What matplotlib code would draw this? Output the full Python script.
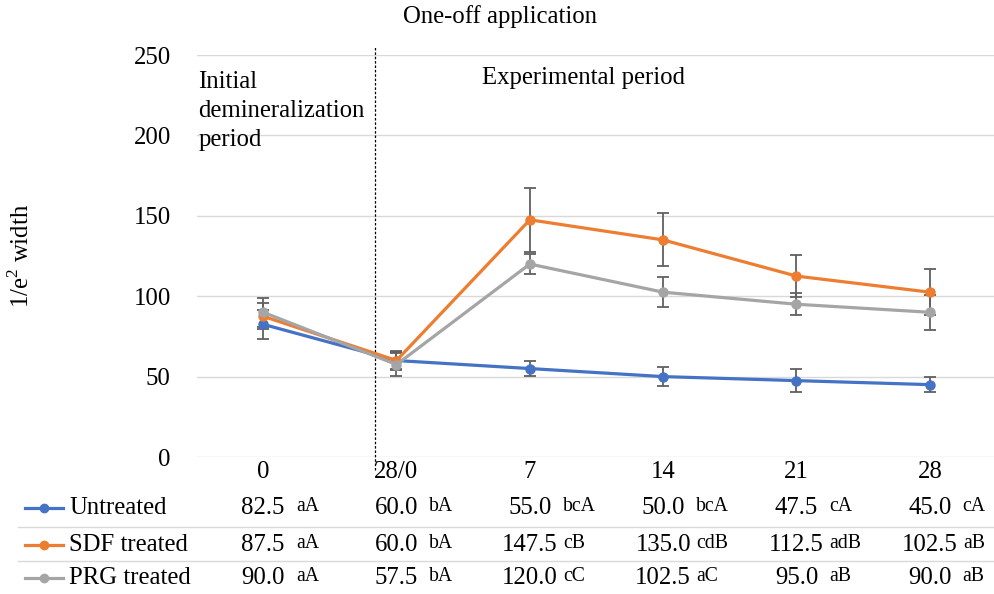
import matplotlib
matplotlib.use("Agg")
import matplotlib.pyplot as plt
from matplotlib.lines import Line2D
from matplotlib.transforms import blended_transform_factory

plt.rcParams["font.family"] = ["Liberation Serif", "DejaVu Serif"]
plt.rcParams["mathtext.fontset"] = "custom"
plt.rcParams["mathtext.rm"] = "Liberation Serif"

days = ["0", "28/0", "7", "14", "21", "28"]
series = ["Untreated", "SDF treated", "PRG treated"]
colors = ["#4472C4", "#ED7D31", "#A5A5A5"]

untreated = [82.5, 60.0, 55.0, 50.0, 47.5, 45.0]
sdf = [87.5, 60.0, 147.5, 135.0, 112.5, 102.5]
prg = [90.0, 57.5, 120.0, 102.5, 95.0, 90.0]

untreated_err = [9, 6, 4.5, 6, 7, 4.5]
sdf_err = [8, 5, 20, 16.5, 13, 14.5]
prg_err = [9, 7, 6.5, 9.5, 7, 11]

untreated_sig = ["aA", "bA", "bcA", "bcA", "cA", "cA"]
sdf_sig = ["aA", "bA", "cB", "cdB", "adB", "aB"]
prg_sig = ["aA", "bA", "cC", "aC", "aB", "aB"]

values = [untreated, sdf, prg]
errors = [untreated_err, sdf_err, prg_err]
sigs = [untreated_sig, sdf_sig, prg_sig]

FS = 17.8

fig = plt.figure(figsize=(9.94, 5.94), dpi=100)
ax = fig.add_axes([196.5 / 994, 1 - 457 / 594, 800 / 994, 402 / 594])

x = list(range(len(days)))
for vals, errs, c in zip(values, errors, colors):
    ax.errorbar(x, vals, yerr=errs, fmt="none", ecolor="#606060",
                elinewidth=1.3, capsize=4, capthick=1.3, zorder=2)
for vals, c in zip(values, colors):
    ax.plot(x, vals, color=c, lw=2.3, marker="o", ms=6.5, zorder=3)

ax.set_xlim(-0.5, 5.5)
ax.set_ylim(0, 250)
ax.set_yticks(range(0, 251, 50))
ax.grid(axis="y", color="#d9d9d9", lw=1)
ax.set_axisbelow(True)
for s in ax.spines.values():
    s.set_visible(False)
ax.set_xticks(x, days)
ax.tick_params(axis="x", length=0, pad=3, labelsize=FS)
ax.tick_params(axis="y", length=0, pad=18.5, labelsize=FS)
ax.set_ylabel(r"1/e$^{\mathrm{2}}$ width", fontsize=FS)
ax.yaxis.set_label_coords(-0.203, 0.5)

# divider between periods
ax.plot([0.84, 0.84], [-8, 255], color="black", lw=0.9,
        ls=(0, (2, 1.5)), clip_on=False, zorder=1)

fig.text(500 / 994, 1 - 17 / 594, "One-off application", ha="center",
         va="center", fontsize=FS)
ax.text(-0.487, 240, "Initial\ndemineralization\nperiod",
        ha="left", va="top", fontsize=FS, linespacing=1.4)
ax.text(1.64, 236, "Experimental period", ha="left", va="center", fontsize=FS)

# data table
trans = blended_transform_factory(ax.transData, fig.transFigure)
row_y = [1 - 508 / 594, 1 - 545 / 594, 1 - 578 / 594]
for name, c, vals, sg, yy in zip(series, colors, values, sigs, row_y):
    fig.add_artist(Line2D([25 / 994, 63 / 994], [yy, yy], color=c, lw=2.3,
                          transform=fig.transFigure))
    fig.add_artist(Line2D([44 / 994], [yy], color=c, marker="o", ms=6,
                          transform=fig.transFigure))
    fig.text(69 / 994, yy, name, ha="left", va="center", fontsize=FS)
    for i, (v, s) in enumerate(zip(vals, sg)):
        num = f"{v:.1f}"
        t = ax.text(i, yy, num, transform=trans, ha="center",
                    va="center", fontsize=FS, clip_on=False)
        gap = 8 if len(num) == 4 else 4
        ax.annotate(s, xy=(1, 0.5), xycoords=t, xytext=(gap, 1),
                    textcoords="offset points", ha="left", va="center",
                    fontsize=FS * 0.8)

for yy in [1 - 527 / 594, 1 - 561 / 594]:
    fig.add_artist(Line2D([18 / 994, 1], [yy, yy], color="#d9d9d9", lw=1,
                          transform=fig.transFigure))

fig.savefig("out.png", dpi=100)
